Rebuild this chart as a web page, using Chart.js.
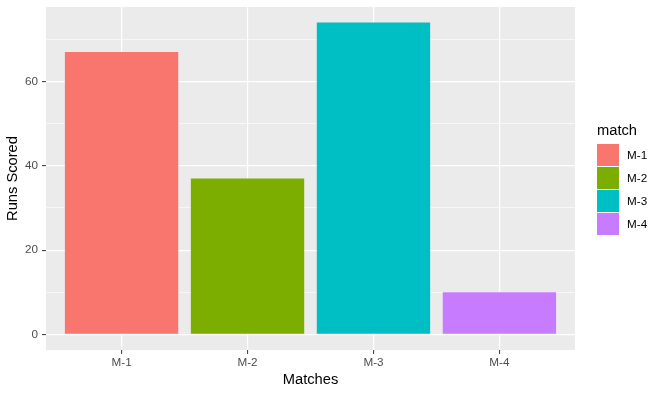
<!DOCTYPE html>
<html>
<head>
<meta charset="utf-8">
<script src="https://cdn.jsdelivr.net/npm/chart.js@4.4.0/dist/chart.umd.min.js"></script>
<style>
  html, body { margin: 0; padding: 0; background: #ffffff; }
  #wrap { position: relative; width: 662px; height: 395px; font-family: "Liberation Sans", Arial, sans-serif; }
  #c { position: absolute; left: 0; top: 0; }
  .lg-title { position: absolute; left: 597px; top: 122px; font-size: 14.7px; line-height: 17px; color: #000; white-space: nowrap; }
  .lg-key { position: absolute; left: 597px; width: 22px; height: 22px; }
  .lg-lab { position: absolute; left: 627px; height: 22px; line-height: 22px; font-size: 11.7px; color: #000; white-space: nowrap; }
</style>
</head>
<body>
<div id="wrap">
  <canvas id="c" width="662" height="395"></canvas>
</div>
<script>
const categories = ["M-1", "M-2", "M-3", "M-4"];
const runs = [67, 37, 74, 10];
const colors = ["#F8766D", "#7CAE00", "#00BFC4", "#C77CFF"];
const yTickLabels = [0, 20, 40, 60];
const legendTitle = "match";
const xTitle = "Matches";
const yTitle = "Runs Scored";

const panelBg = {
  id: 'panelBg',
  beforeDraw(chart) {
    const a = chart.chartArea;
    const ctx = chart.ctx;
    ctx.save();
    ctx.fillStyle = '#EBEBEB';
    ctx.fillRect(a.left, a.top, a.right - a.left, a.bottom - a.top);
    ctx.restore();
  }
};

const points = categories.map((c, i) => ({ x: i + 1, y: runs[i] }));

new Chart(document.getElementById('c'), {
  type: 'bar',
  data: {
    datasets: [{
      data: points,
      backgroundColor: colors,
      borderWidth: 0,
      barPercentage: 0.9,
      categoryPercentage: 1.0
    }]
  },
  options: {
    responsive: false,
    animation: false,
    devicePixelRatio: 1,
    layout: { padding: { left: 0, top: 7, right: 87, bottom: 0 } },
    plugins: { legend: { display: false }, tooltip: { enabled: false } },
    scales: {
      x: {
        type: 'linear',
        min: 0.4,
        max: 4.6,
        offset: false,
        border: { display: false },
        grid: { offset: false, color: '#FFFFFF', lineWidth: 1.2, tickLength: 4, tickColor: '#333333', tickWidth: 1 },
        ticks: {
          stepSize: 1,
          includeBounds: false,
          autoSkip: false,
          maxRotation: 0,
          padding: 2,
          color: '#4D4D4D',
          font: { family: '"Liberation Sans", Arial, sans-serif', size: 11.7 },
          callback: (v) => categories[Math.round(v) - 1] || ''
        },
        title: {
          display: true, text: xTitle, color: '#000000',
          font: { family: '"Liberation Sans", Arial, sans-serif', size: 14.7 },
          padding: { top: 0, bottom: 6 }
        },
        afterFit: (s) => { s.height = 45; s.paddingLeft = 0; s.paddingRight = 0; }
      },
      y: {
        type: 'linear',
        min: -3.7,
        max: 77.7,
        border: { display: false },
        grid: {
          color: '#FFFFFF',
          lineWidth: (ctx) => (ctx.tick && yTickLabels.includes(ctx.tick.value)) ? 1.2 : 0.6,
          tickLength: 4,
          tickColor: (ctx) => (ctx.tick && yTickLabels.includes(ctx.tick.value)) ? '#333333' : 'rgba(0,0,0,0)',
          tickWidth: 1
        },
        ticks: {
          stepSize: 10,
          includeBounds: false,
          autoSkip: false,
          padding: 4,
          color: '#4D4D4D',
          font: { family: '"Liberation Sans", Arial, sans-serif', size: 11.7 },
          callback: (v) => yTickLabels.includes(v) ? String(v) : ''
        },
        title: {
          display: true, text: yTitle, color: '#000000',
          font: { family: '"Liberation Sans", Arial, sans-serif', size: 14.7 },
          padding: { top: 4, bottom: 0 }
        },
        afterFit: (s) => { s.width = 46; s.paddingTop = 0; s.paddingBottom = 0; }
      }
    }
  },
  plugins: [panelBg]
});

// HTML legend built from the data arrays
const wrap = document.getElementById('wrap');
const t = document.createElement('div');
t.className = 'lg-title';
t.textContent = legendTitle;
wrap.appendChild(t);
categories.forEach((c, i) => {
  const k = document.createElement('div');
  k.className = 'lg-key';
  k.style.top = (144 + 23 * i) + 'px';
  k.style.background = colors[i];
  wrap.appendChild(k);
  const l = document.createElement('div');
  l.className = 'lg-lab';
  l.style.top = (144 + 23 * i) + 'px';
  l.textContent = c;
  wrap.appendChild(l);
});
</script>
</body>
</html>
